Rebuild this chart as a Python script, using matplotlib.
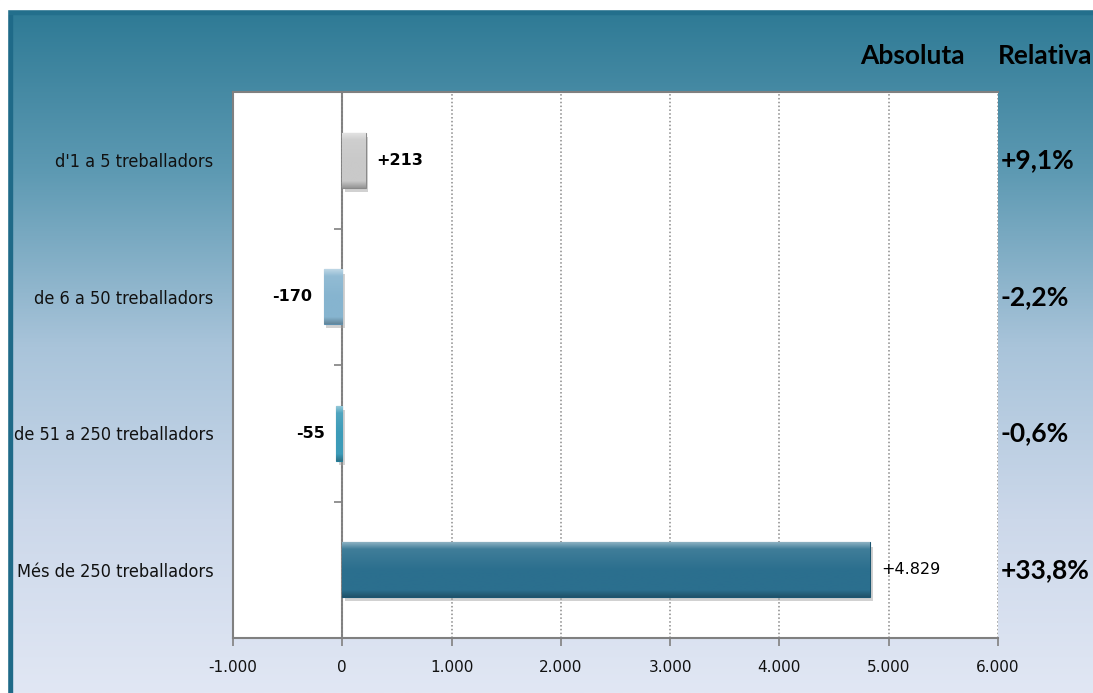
import numpy as np
import matplotlib
matplotlib.use("Agg")
import matplotlib.pyplot as plt
import matplotlib.patheffects as pe
from matplotlib.colors import LinearSegmentedColormap, to_rgb
from matplotlib.ticker import FuncFormatter, MultipleLocator

# ---- data ----
categories = ["d'1 a 5 treballadors", "de 6 a 50 treballadors",
              "de 51 a 250 treballadors", "Més de 250 treballadors"]
absolute = [213, -170, -55, 4829]
relative = [9.1, -2.2, -0.6, 33.8]
bar_colors = ["#c9c9c9", "#86b4cf", "#3c9bb8", "#2b6f8e"]
edge_colors = ["#8a8a8a", "#5d8fae", "#237d98", "#1b5570"]
x_min, x_max, x_step = -1000, 6000, 1000
headers = ["Absoluta", "Relativa"]


def fmt_thousands(v, signed=False):
    s = f"{abs(v):,.0f}".replace(",", ".")
    if v < 0:
        return "-" + s
    return ("+" if signed else "") + s


def fmt_pct(v):
    s = f"{abs(v):.1f}".replace(".", ",")
    return ("+" if v >= 0 else "-") + s + "%"


def shade(c, f):
    r = np.array(to_rgb(c))
    if f >= 0:
        return tuple(r + (1 - r) * f)
    return tuple(r * (1 + f))


W, H = 1093, 693
fig = plt.figure(figsize=(W / 100, H / 100), dpi=100)

# ---- background ----
bg = fig.add_axes([0, 0, 1, 1], zorder=-5)
bg.set_axis_off()
cmap = LinearSegmentedColormap.from_list(
    "bgc", [(0.0, "#2b7893"), (0.25, "#5e9ab3"), (0.5, "#a9c4da"),
            (0.75, "#ccd8ea"), (1.0, "#e1e7f4")])
grad = np.linspace(0, 1, 256).reshape(-1, 1)
bg.imshow(grad, aspect="auto", cmap=cmap, extent=[0, 1, 0, 1], origin="upper")
bg.set_xlim(0, 1)
bg.set_ylim(0, 1)
bg.add_patch(plt.Rectangle((0, 1 - 9 / H), 1, 9 / H, color="white", zorder=3))
bg.add_patch(plt.Rectangle((0, 0), 7 / W, 1, color="white", zorder=3))
bg.add_patch(plt.Rectangle((7 / W, 0), 5 / W, 1 - 9 / H, color="#1f6a88", zorder=2))
bg.add_patch(plt.Rectangle((7 / W, 1 - 14 / H), 1, 5 / H, color="#236f8c", zorder=2))

# ---- main axes ----
ax = fig.add_axes([233 / W, 1 - 638 / H, (998 - 233) / W, (638 - 92) / H], zorder=1)
ax.set_facecolor("white")
y = np.arange(len(categories))
bars = ax.barh(y, absolute, height=0.4, color=bar_colors,
               edgecolor=edge_colors, linewidth=0.8, zorder=3)
for b, c in zip(bars, bar_colors):
    b.set_path_effects([pe.SimplePatchShadow(offset=(2, -3), shadow_rgbFace="#9a9a9a", alpha=0.45),
                        pe.Normal()])
    # bevel-like vertical gradient clipped to the bar
    bcm = LinearSegmentedColormap.from_list(
        "b", [(0.0, shade(c, 0.45)), (0.12, shade(c, 0.1)), (0.5, c),
              (0.88, c), (1.0, shade(c, -0.25))])
    x0, x1 = sorted([b.get_x(), b.get_x() + b.get_width()])
    y0, y1 = b.get_y(), b.get_y() + b.get_height()
    im = ax.imshow(np.linspace(0, 1, 64).reshape(-1, 1), cmap=bcm, aspect="auto",
                   extent=[x0, x1, y1, y0], origin="upper", zorder=3.5,
                   interpolation="bilinear")
    im.set_clip_path(b)

ax.set_xlim(x_min, x_max)
ax.set_ylim(len(categories) - 0.5, -0.5)
ax.set_aspect("auto")
ax.xaxis.set_major_locator(MultipleLocator(x_step))
ax.xaxis.set_major_formatter(FuncFormatter(lambda v, p: fmt_thousands(v)))
ax.tick_params(axis="x", direction="out", length=6, width=1.2, color="#808080",
               pad=10, labelsize=11, labelcolor="#111111")
ax.set_yticks(y)
ax.set_yticklabels(categories, fontsize=13, fontstretch="condensed")
ax.tick_params(axis="y", length=0, pad=14, labelcolor="#111111")

ax.grid(axis="x", linestyle=(0, (1, 1.5)), color="#8a8a8a", linewidth=1.1, zorder=0)
for s in ["top", "left", "bottom"]:
    ax.spines[s].set_color("#808080")
    ax.spines[s].set_linewidth(1.5)
ax.spines["right"].set_visible(False)

# zero axis with category boundary ticks
zero_pos = (0 - x_min) / (x_max - x_min)
sec = ax.secondary_yaxis(zero_pos)
sec.set_yticks([])
sec.set_yticks(y[:-1] + 0.5, minor=True)
sec.tick_params(which="minor", direction="out", length=6, width=1.2, color="#808080")
sec.spines["left"].set_color("#808080")
sec.spines["left"].set_linewidth(1.5)
for s in ["right", "top", "bottom"]:
    sec.spines[s].set_visible(False)

# value labels
for yi, v in zip(y, absolute):
    if v >= 0:
        ax.annotate(fmt_thousands(v, signed=True), (v, yi), xytext=(8, 0),
                    textcoords="offset points", ha="left", va="center",
                    fontsize=11.5, fontweight="bold" if v < 1000 else "normal",
                    color="black", zorder=5)
    else:
        ax.annotate(fmt_thousands(v), (v, yi), xytext=(-8, 0),
                    textcoords="offset points", ha="right", va="center",
                    fontsize=11.5, fontweight="bold", color="black", zorder=5)

# relative values to the right of the plot
for yi, r in zip(y, relative):
    ax.annotate(fmt_pct(r), (1, yi), xycoords=("axes fraction", "data"),
                xytext=(2, 0), textcoords="offset points", ha="left", va="center",
                fontsize=19, fontweight="bold", family="Lato", color="black",
                annotation_clip=False)

# headers
fig.text(912 / W, 1 - 56 / H, headers[0], ha="center", va="center",
         fontsize=19, fontweight="bold", family="Lato", color="black")
fig.text(1045 / W, 1 - 56 / H, headers[1], ha="center", va="center",
         fontsize=19, fontweight="bold", family="Lato", color="black")

fig.savefig("out.png", dpi=100)
